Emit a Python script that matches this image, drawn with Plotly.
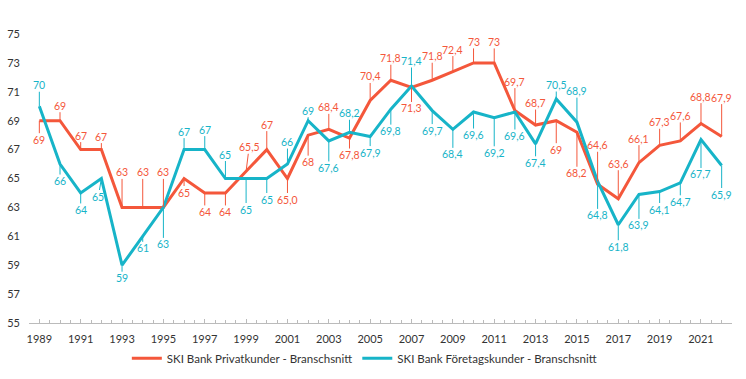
import plotly.graph_objects as go

years = list(range(1989, 2023))

privat = [69, 69, 67, 67, 63, 63, 63, 65, 64, 64, 65.5, 67, 65.0, 68, 68.4, 67.8,
          70.4, 71.8, 71.3, 71.8, 72.4, 73, 73, 69.7, 68.7, 69, 68.2, 64.6, 63.6,
          66.1, 67.3, 67.6, 68.8, 67.9]

foretag = [70, 66, 64, 65, 59, 61, 63, 67, 67, 65, 65, 65, 66, 69, 67.6, 68.2,
           67.9, 69.8, 71.4, 69.7, 68.4, 69.6, 69.2, 69.6, 67.4, 70.5, 68.9, 64.8,
           61.8, 63.9, 64.1, 64.7, 67.7, 65.9]

series_names = ["SKI Bank Privatkunder - Branschsnitt",
                "SKI Bank Företagskunder - Branschsnitt"]

y_ticks = [55, 57, 59, 61, 63, 65, 67, 69, 71, 73, 75]
x_ticks = list(range(1989, 2022, 2))

# label offsets (pixels) for the leader-line labels
privat_dy = [19, -15, -14, -13, -35, -35, -35, 14, 19, 19, -24, -25, 21, 27, -22, 17,
             -24, -22, 21, -24, -22, -21, -21, -29, -22, 29, 41, -39, -35, -24, -23,
             -25, -27, -39]
privat_dx = [0] * 34
privat_dx[10] = 3

foretag_dy = [-21, 17, 17, 18, 13, 12, 37, -18, -20, -24, 31, 21, -22, -10, 27, -19,
              16, 22, -25, 20, 25, 23, 35, 24, 19, -14, -31, 34, 22, 31, 18, 19, 35, 29]
foretag_dx = [0] * 34
foretag_dx[3] = -3


def fmt(v):
    return f"{v:g}".replace(".", ",")


privat_text = [fmt(v) for v in privat]
privat_text[years.index(2001)] = "65,0"
foretag_text = [fmt(v) for v in foretag]

RED = "#F4573B"
BLUE = "#17B4C8"
FONT = "Lato"

fig = go.Figure()
fig.add_trace(go.Scatter(x=years, y=privat, mode="lines", name=series_names[0],
                         line=dict(color=RED, width=3)))
fig.add_trace(go.Scatter(x=years, y=foretag, mode="lines", name=series_names[1],
                         line=dict(color=BLUE, width=3)))

annotations = []
for vals, texts, dxs, dys, col in [(privat, privat_text, privat_dx, privat_dy, RED),
                                   (foretag, foretag_text, foretag_dx, foretag_dy, BLUE)]:
    for yr, v, t, dx, dy in zip(years, vals, texts, dxs, dys):
        annotations.append(dict(
            x=yr, y=v, xref="x", yref="y", text=t, showarrow=True,
            ax=dx, ay=dy, arrowhead=0, arrowwidth=1, arrowcolor=col,
            standoff=0, startstandoff=0, borderpad=0,
            font=dict(family=FONT, size=10.5, color=col)))

fig.update_layout(
    width=746, height=379,
    margin=dict(l=29, r=14, t=34, b=56, autoexpand=False),
    paper_bgcolor="white", plot_bgcolor="white",
    font=dict(family=FONT, size=11, color="#333333"),
    showlegend=True,
    legend=dict(orientation="h", x=0.477, xanchor="center",
                yref="container", y=0.055, yanchor="middle",
                font=dict(family=FONT, size=11.5, color="#333333"),
                itemwidth=30, tracegroupgap=0),
    annotations=annotations,
    xaxis=dict(range=[1988.5, 2022.5], tickmode="array", tickvals=x_ticks,
               ticktext=[str(t) for t in x_ticks], showgrid=False, zeroline=False,
               showline=True, linecolor="#BBBBBB", linewidth=1, automargin=False,
               ticks="inside", ticklen=4, tickcolor="#BBBBBB",
               ticklabelstandoff=6,
               minor=dict(dtick=0.5, tick0=1988.5, ticks="inside", ticklen=3, tickcolor="#BBBBBB"),
               tickfont=dict(family=FONT, size=11, color="#333333")),
    yaxis=dict(range=[55, 75], tickmode="array", tickvals=y_ticks,
               showgrid=False, zeroline=False, showline=False, ticks="",
               ticklabelstandoff=8, automargin=False,
               tickfont=dict(family=FONT, size=11, color="#333333")),
)

fig.write_html("out.html", config={"displayModeBar": False},
               post_script="document.body.style.margin='0px';document.body.style.overflow='hidden';")
